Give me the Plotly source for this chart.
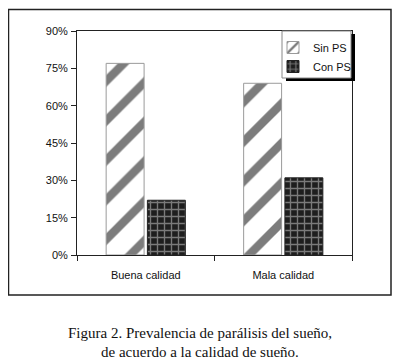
import plotly.graph_objects as go

categories = ["Buena calidad", "Mala calidad"]
sin_ps = [77, 69]
con_ps = [22, 31]
series_names = ["Sin PS", "Con PS"]
y_ticks = [0, 15, 30, 45, 60, 75, 90]
y_tick_labels = ["0%", "15%", "30%", "45%", "60%", "75%", "90%"]
caption_lines = ["Figura 2. Prevalencia de parálisis del sueño,",
                 "de acuerdo a la calidad de sueño."]

OFF = 8  # page body margin offset in the screenshot
W, H = 400 - OFF, 362 - OFF
L, T = 77 - OFF, 31 - OFF
PR, PB = 352 - OFF, 255 - OFF
R, B = W - PR, H - PB
pw, ph = PR - L, PB - T

def px_x(x):
    return (x - OFF - L) / pw

def px_y(y):
    return (PB - (y - OFF)) / ph

fig = go.Figure()
fig.add_trace(go.Bar(
    x=categories, y=sin_ps, name=series_names[0],
    marker=dict(color="white", line=dict(color="#9a9a9a", width=1),
                pattern=dict(shape="/", fgcolor="#7c7c7c", bgcolor="white", fgopacity=1,
                             size=28, solidity=0.3)),
))
fig.add_trace(go.Bar(
    x=categories, y=con_ps, name=series_names[1],
    marker=dict(color="#222222", line=dict(color="#222222", width=1),
                pattern=dict(shape="+", fgcolor="#7a7a7a", bgcolor="#1e1e1e", fgopacity=1,
                             size=7, solidity=0.35)),
))

font = dict(family="Liberation Sans, Arial, sans-serif", size=11, color="#111111")

fig.update_layout(
    width=W, height=H,
    margin=dict(l=L, r=R, t=T, b=B),
    paper_bgcolor="white", plot_bgcolor="white",
    barmode="group", bargap=0.4, bargroupgap=0.08,
    font=font,
    showlegend=True,
    legend=dict(x=px_x(273), y=px_y(33), xanchor="left", yanchor="top",
                bgcolor="rgba(0,0,0,0)", borderwidth=0,
                font=dict(family="Liberation Sans, Arial, sans-serif", size=11, color="#111"),
                itemwidth=30, tracegroupgap=0),
    xaxis=dict(showline=True, linecolor="#222", linewidth=1, mirror=True,
               ticks="outside", ticklen=5, tickcolor="#222", tickson="boundaries",
               showgrid=False, tickfont=font, ticklabelstandoff=10),
    yaxis=dict(range=[0, 90], tickmode="array", tickvals=y_ticks, ticktext=y_tick_labels,
               showline=True, linecolor="#222", linewidth=1, mirror=True,
               ticks="outside", ticklen=5, tickcolor="#222",
               showgrid=False, zeroline=False, tickfont=font, ticklabelstandoff=1),
)

# outer frame
fig.add_shape(type="rect", xref="paper", yref="paper",
              x0=px_x(8.5), x1=px_x(391), y0=px_y(295), y1=px_y(9.5),
              line=dict(color="#222", width=1.5), fillcolor="rgba(0,0,0,0)", layer="below")
# legend shadow and box
fig.add_shape(type="rect", xref="paper", yref="paper",
              x0=px_x(286), x1=px_x(355), y0=px_y(81), y1=px_y(34),
              line=dict(width=0), fillcolor="black", layer="above")
fig.add_shape(type="rect", xref="paper", yref="paper",
              x0=px_x(282), x1=px_x(351), y0=px_y(78), y1=px_y(31),
              line=dict(color="#888", width=1), fillcolor="white", layer="above")

for i, line in enumerate(caption_lines):
    fig.add_annotation(xref="paper", yref="paper", x=px_x(200), y=px_y(333 + 19 * i),
                       text=line, showarrow=False, xanchor="center", yanchor="middle",
                       font=dict(family="Liberation Serif, Times New Roman, serif",
                                 size=15, color="#111"))

fig.write_html("out.html")
